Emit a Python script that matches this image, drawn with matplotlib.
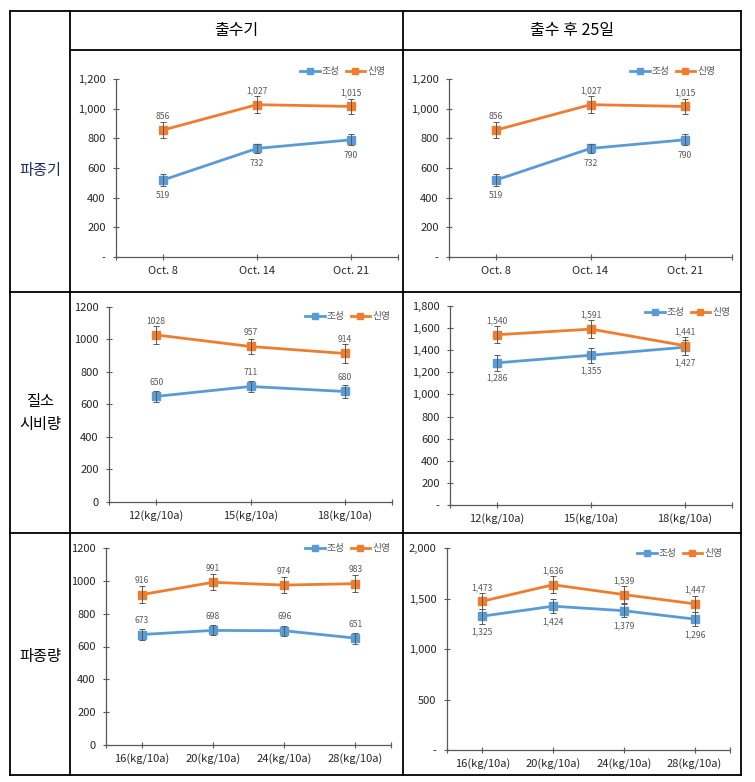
import numpy as np
import matplotlib
matplotlib.use('Agg')
import matplotlib.pyplot as plt
from matplotlib.lines import Line2D
from matplotlib.ticker import FuncFormatter

plt.rcParams['font.family'] = ['Noto Sans CJK KR', 'DejaVu Sans']

W, H = 755, 782

# row / column labels of the table
col_titles = ['출수기', '출수 후 25일']
row_titles = ['파종기', '질소\n시비량', '파종량']
series_names = ['조성', '신영']

# 파종기 (same chart in both columns)
sowing_dates = ['Oct. 8', 'Oct. 14', 'Oct. 21']
sowing_josaeng = [519, 732, 790]
sowing_sinyoung = [856, 1027, 1015]
sowing_josaeng_err = [40, 31, 37]
sowing_sinyoung_err = [56, 56, 53]

# 질소 시비량
nitrogen_rates = ['12(kg/10a)', '15(kg/10a)', '18(kg/10a)']
nitro_head_josaeng = [650, 711, 680]
nitro_head_sinyoung = [1028, 957, 914]
nitro_head_josaeng_err = [36, 34, 39]
nitro_head_sinyoung_err = [55, 49, 58]
nitro_after_josaeng = [1286, 1355, 1427]
nitro_after_sinyoung = [1540, 1591, 1441]
nitro_after_josaeng_err = [75, 68, 68]
nitro_after_sinyoung_err = [78, 83, 83]

# 파종량
seeding_rates = ['16(kg/10a)', '20(kg/10a)', '24(kg/10a)', '28(kg/10a)']
seed_head_josaeng = [673, 698, 696, 651]
seed_head_sinyoung = [916, 991, 974, 983]
seed_head_josaeng_err = [33, 30, 30, 34]
seed_head_sinyoung_err = [51, 48, 50, 53]
seed_after_josaeng = [1325, 1424, 1379, 1296]
seed_after_sinyoung = [1473, 1636, 1539, 1447]
seed_after_josaeng_err = [74, 69, 66, 69]
seed_after_sinyoung_err = [79, 86, 83, 81]

BLUE = '#5B9BD5'
ORANGE = '#ED7D31'
AXIS = '#595959'
LABEL = '#595959'

fig = plt.figure(figsize=(W / 100, H / 100), dpi=100)


def px_axes(l, t, r, b):
    return fig.add_axes([l / W, 1 - b / H, (r - l) / W, (b - t) / H])


def hline(y, x0, x1):
    fig.add_artist(Line2D([x0 / W, x1 / W], [1 - y / H, 1 - y / H],
                          transform=fig.transFigure, color='black', lw=1.3))


def vline(x, y0, y1):
    fig.add_artist(Line2D([x / W, x / W], [1 - y0 / H, 1 - y1 / H],
                          transform=fig.transFigure, color='black', lw=1.3))


def draw_panel(box, cats, jo, si, jo_err, si_err, ymax, ystep, commas,
               jo_below, leg_dx, leg_dy):
    ax = px_axes(*box)
    n = len(cats)
    x = np.arange(n)
    fmt = (lambda v: '-' if v == 0 else f'{v:,.0f}') if commas else (lambda v: f'{v:.0f}')

    for vals, errs, color, name, below in [(jo, jo_err, BLUE, series_names[0], jo_below),
                                           (si, si_err, ORANGE, series_names[1], False)]:
        ax.plot(x, vals, color=color, lw=2, marker='s', ms=5.5, label=name, zorder=2)
        ax.errorbar(x, vals, yerr=errs, fmt='none', ecolor=AXIS, elinewidth=0.7,
                    capsize=2, capthick=0.7, zorder=3)
        for i, v in enumerate(vals):
            ax.annotate(fmt(v), (i, v), xytext=(0, -11 if below else 10),
                        textcoords='offset points', ha='center', va='center',
                        fontsize=6.2, color=LABEL)

    ax.set_xlim(-0.5, n - 0.5)
    ax.set_ylim(0, ymax)
    ax.set_xticks(x)
    ax.set_xticklabels(cats)
    ax.set_xticks([-0.5, n - 0.5], minor=True)
    ax.set_yticks(np.arange(0, ymax + 1, ystep))
    ax.yaxis.set_major_formatter(FuncFormatter(lambda v, p: fmt(v)))
    for s in ['top', 'right']:
        ax.spines[s].set_visible(False)
    for s in ['left', 'bottom']:
        ax.spines[s].set_color(AXIS)
        ax.spines[s].set_linewidth(0.9)
    ax.tick_params(which='both', direction='inout', length=5, width=0.8, color=AXIS,
                   labelsize=8, labelcolor='#262626')
    ax.tick_params(axis='x', pad=4)
    ax.tick_params(axis='y', pad=5)
    ax.patch.set_alpha(0)

    w = box[2] - box[0]
    h = box[3] - box[1]
    ax.legend(loc='center right', bbox_to_anchor=(1 - leg_dx / w, 1 + leg_dy / h),
              ncol=2, frameon=False, fontsize=7, handlelength=2.0, markerscale=0.75,
              columnspacing=0.6, handletextpad=0.2, borderaxespad=0, borderpad=0,
              labelcolor=LABEL)
    return ax


# panels: box = (left, top, right, bottom) in pixels
draw_panel((116, 79, 398, 257), sowing_dates, sowing_josaeng, sowing_sinyoung,
           sowing_josaeng_err, sowing_sinyoung_err, 1200, 200, True, True, 13, 8)
draw_panel((449, 79, 732, 257), sowing_dates, sowing_josaeng, sowing_sinyoung,
           sowing_josaeng_err, sowing_sinyoung_err, 1200, 200, True, True, 17, 8)
draw_panel((109, 307, 392, 502), nitrogen_rates, nitro_head_josaeng, nitro_head_sinyoung,
           nitro_head_josaeng_err, nitro_head_sinyoung_err, 1200, 200, False, False, 2, -9)
draw_panel((450, 306, 732, 505), nitrogen_rates, nitro_after_josaeng, nitro_after_sinyoung,
           nitro_after_josaeng_err, nitro_after_sinyoung_err, 1800, 200, True, True, 2, -6)
draw_panel((106, 548, 391, 745), seeding_rates, seed_head_josaeng, seed_head_sinyoung,
           seed_head_josaeng_err, seed_head_sinyoung_err, 1200, 200, False, False, 1, 0)
draw_panel((447, 548, 730, 750), seeding_rates, seed_after_josaeng, seed_after_sinyoung,
           seed_after_josaeng_err, seed_after_sinyoung_err, 2000, 500, True, True, 8, -5)

# table grid
L, C1, C2, R = 10, 70, 403, 741
T, HB, R1, R2, B = 11, 50, 292, 533, 775
hline(T, L, R)
hline(HB, C1, R)
hline(R1, L, R)
hline(R2, L, R)
hline(B, L, R)
vline(L, T, B)
vline(C1, T, B)
vline(C2, T, B)
vline(R, T, B)

fig.text((C1 + C2) / 2 / W, 1 - 30 / H, col_titles[0], ha='center', va='center', fontsize=11.5)
fig.text((C2 + R) / 2 / W, 1 - 30 / H, col_titles[1], ha='center', va='center', fontsize=11.5)
for title, yc, color in zip(row_titles, [170, 413, 657], ['#1f2a5a', 'black', 'black']):
    fig.text((L + C1) / 2 / W, 1 - yc / H, title, ha='center', va='center',
             fontsize=11, color=color, linespacing=1.5)

fig.savefig('out.png', dpi=100)
